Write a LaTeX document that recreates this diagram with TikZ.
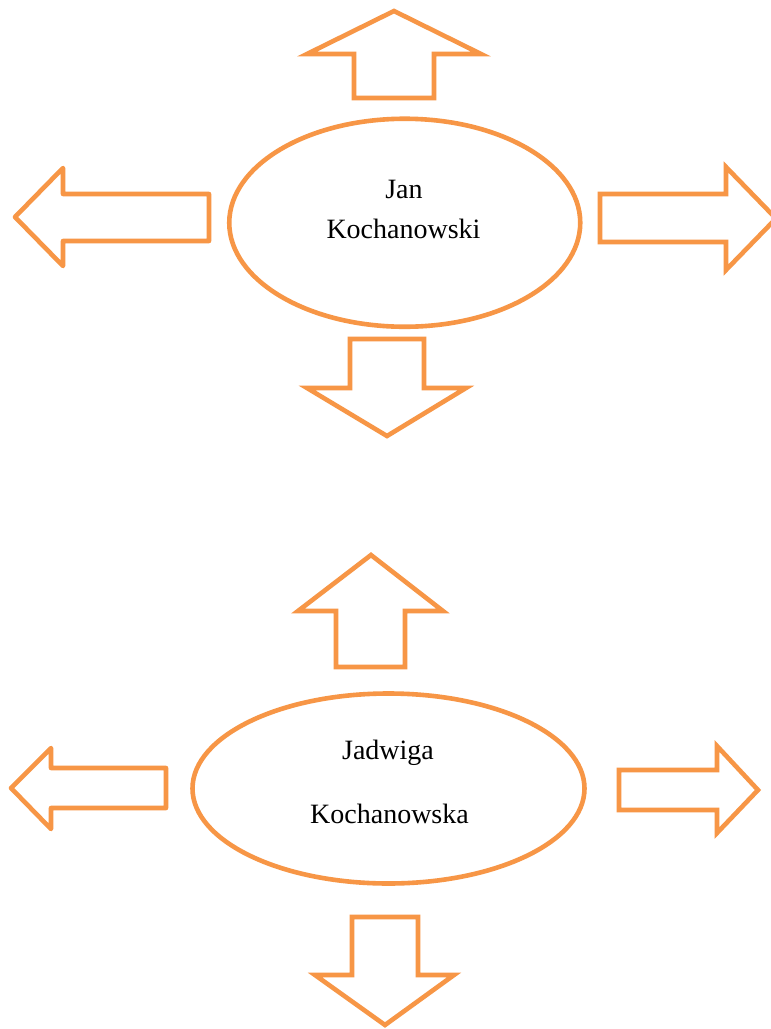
\documentclass[tikz,border=0pt]{standalone}
\usepackage{fontspec}
\setmainfont{Liberation Serif}
\usetikzlibrary{shapes.geometric}
\definecolor{accent}{HTML}{F79646}
\begin{document}
\begin{tikzpicture}[x=1pt,y=-1pt,
  blockarrow/.style={draw=accent,line width=4.6pt,line join=miter,miter limit=10},
  roundarrow/.style={draw=accent,line width=4.6pt,line join=round},
  person/.style={draw=accent,line width=4.6pt,ellipse,inner sep=0pt},
  label/.style={font=\fontsize{28}{34}\selectfont,anchor=base,inner sep=0pt}]
\useasboundingbox[fill=white] (0,0) rectangle (771,1029);

% ---- top group ----
\node[person,minimum width=351pt,minimum height=208pt] (jan) at (404.75,222.75) {};
\node[label] (janA) at (404,198) {Jan};
\node[label] (janB) at (403.5,238) {Kochanowski};

\draw[blockarrow] (394,11) -- (481,54) -- (434,54) -- (434,98) -- (354,98) -- (354,54) -- (307,54) -- cycle;
\draw[roundarrow] (15,217) -- (63,168) -- (63,194) -- (209,194) -- (209,241) -- (63,241) -- (63,266) -- cycle;
\draw[blockarrow] (776,218.5) -- (726,167) -- (726,194) -- (600,194) -- (600,242) -- (726,242) -- (726,270) -- cycle;
\draw[blockarrow] (387,436) -- (466,388) -- (424,388) -- (424,339) -- (350,339) -- (350,388) -- (307,388) -- cycle;

% ---- bottom group ----
\node[person,minimum width=392pt,minimum height=190pt] (jad) at (388.5,788.5) {};
\node[label] (jadA) at (388,759) {Jadwiga};
\node[label] (jadB) at (389.5,823) {Kochanowska};

\draw[blockarrow] (371,555) -- (443,611) -- (405,611) -- (405,667) -- (336,667) -- (336,611) -- (298,611) -- cycle;
\draw[roundarrow] (11,788) -- (51,748) -- (51,768) -- (166,768) -- (166,808) -- (51,808) -- (51,829) -- cycle;
\draw[blockarrow] (758,790) -- (717,746) -- (717,770) -- (619,770) -- (619,810) -- (717,810) -- (717,833) -- cycle;
\draw[blockarrow] (385,1025) -- (454,975) -- (418,975) -- (418,917) -- (352,917) -- (352,975) -- (315,975) -- cycle;
\end{tikzpicture}
\end{document}
